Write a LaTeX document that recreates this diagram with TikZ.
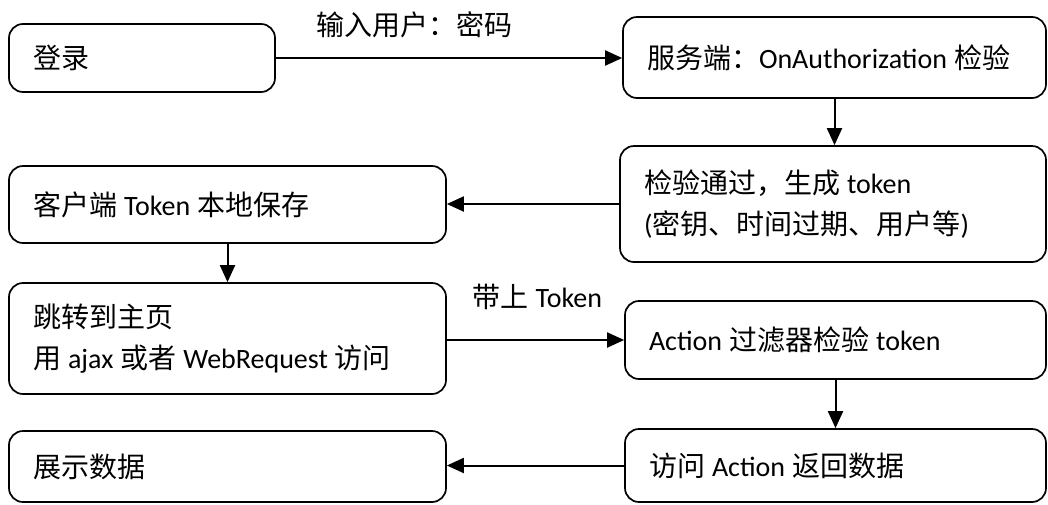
\documentclass[tikz,border=0pt]{standalone}
\usepackage{fontspec}
\setmainfont{Carlito}
\newfontfamily\zh{Noto Sans CJK SC}
\usetikzlibrary{arrows.meta}
\newcommand\gp{\hskip 7pt\relax}
\begin{document}
\begin{tikzpicture}[x=1pt,y=-1pt,
  box/.style={draw, line width=1.7pt, rounded corners=14pt, inner xsep=24pt, inner ysep=0pt,
    align=left, font=\fontsize{28}{41}\selectfont},
  arr/.style={-{Triangle[length=17pt,width=15pt]}, line width=2pt},
  lbl/.style={font=\fontsize{28}{32}\selectfont, inner sep=0pt}]
\useasboundingbox (0,0) rectangle (1048,504);
\node[box, minimum width=266pt, minimum height=68pt, text width=218pt] (login) at (142,58) {{\zh 登录}};
\node[box, minimum width=423pt, minimum height=81pt, text width=375pt] (svc) at (834.5,57.5) {{\zh 服务端：}OnAuthorization\gp{\zh 检验}};
\node[box, minimum width=426pt, minimum height=116pt, text width=378pt] (chk) at (833,204) {{\zh 检验通过，生成}\gp token\\({\zh 密钥、时间过期、用户等})};
\node[box, minimum width=437pt, minimum height=77pt, text width=389pt] (client) at (227.5,204.5) {{\zh 客户端}\gp Token\gp{\zh 本地保存}};
\node[box, minimum width=437pt, minimum height=111pt, text width=389pt] (jump) at (227.5,338.5) {{\zh 跳转到主页}\\{\zh 用}\gp ajax\gp{\zh 或者}\gp WebRequest\gp{\zh 访问}};
\node[box, minimum width=421pt, minimum height=78pt, text width=373pt] (action) at (835.5,340) {Action\gp{\zh 过滤器检验}\gp token};
\node[box, minimum width=437pt, minimum height=71pt, text width=389pt] (show) at (227.5,466.5) {{\zh 展示数据}};
\node[box, minimum width=421pt, minimum height=73pt, text width=373pt] (visit) at (835.5,465.5) {{\zh 访问}\gp Action\gp{\zh 返回数据}};
\draw[arr] (login.east) -- (login.east -| svc.west) node[lbl, pos=0.40, yshift=33pt] (l1) {{\zh 输入用户：密码}};
\draw[arr] (svc.south) -- (svc.south |- chk.north);
\draw[arr] (chk.west) -- (chk.west -| client.east);
\draw[arr] (client.south) -- (jump.north);
\draw[arr] (action.west -| jump.east) -- (action.west) node[lbl, pos=0.51, yshift=43pt] (l2) {{\zh 带上}\gp Token};
\draw[arr] (action.south) -- (action.south |- visit.north);
\draw[arr] (visit.west) -- (visit.west -| show.east);
\end{tikzpicture}
\end{document}
